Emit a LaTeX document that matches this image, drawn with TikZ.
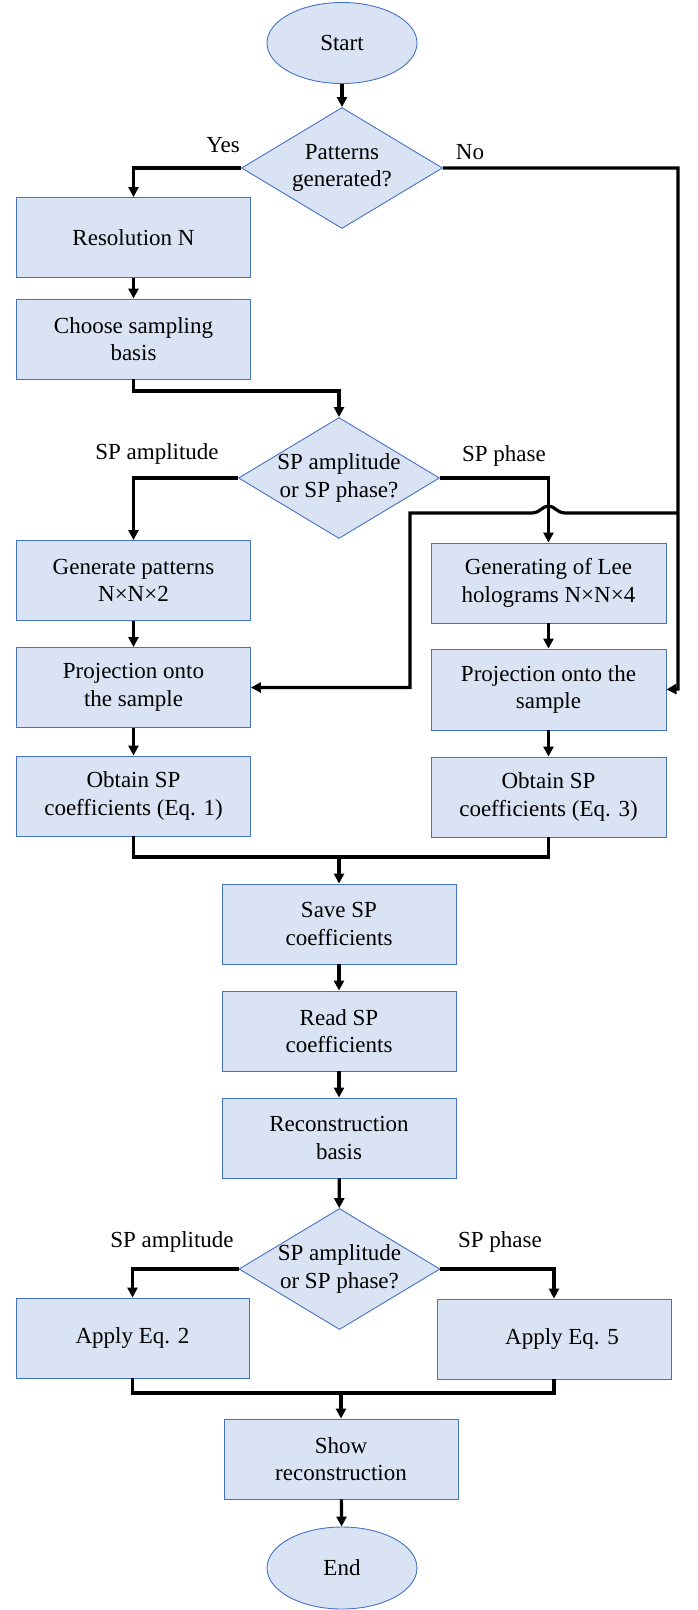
\documentclass[tikz,border=0pt]{standalone}
\usepackage{fontspec}
\setmainfont{Liberation Serif}
\usetikzlibrary{shapes.geometric,arrows.meta}
\definecolor{boxfill}{HTML}{DAE3F3}
\definecolor{boxline}{HTML}{4472C4}
\begin{document}
\begin{tikzpicture}[x=1pt,y=-1pt,
  every node/.style={font=\fontsize{23}{27.5}\selectfont},
  proc/.style={draw=boxline, line width=0.9pt, fill=boxfill, rectangle, minimum width=234pt, minimum height=80pt, inner sep=0pt, align=center},
  term/.style={draw=boxline, line width=0.9pt, fill=boxfill, ellipse, minimum width=150pt, minimum height=81pt, inner sep=0pt},
  dec/.style={draw=boxline, line width=0.9pt, fill=boxfill, diamond, minimum width=201pt, minimum height=121pt, inner sep=0pt},
  dtext/.style={align=center, inner sep=0pt},
  lbl/.style={inner sep=0pt},
  conn/.style={draw=black, line width=3.2pt},
  conna/.style={conn, -{Triangle[length=10pt,width=10pt]}}]
\fill[white] (0,0) rectangle (697,1610);
\path[use as bounding box] (0,0) rectangle (697,1610);
% nodes
\node[term] (start) at (342,43) {Start};
\node[dec] (d1) at (342,168) {};
\node[dtext] at (d1) {Patterns\\generated?};
\node[proc] (res) at (133.5,237.5) {Resolution N};
\node[proc] (choose) at (133.5,339) {Choose sampling\\basis};
\node[dec] (d2) at (339,478) {};
\node[dtext] at (d2) {SP amplitude\\or SP phase?};
\node[proc] (genL) at (133.5,580.5) {Generate patterns\\N×N×2};
\node[proc] (projL) at (133.5,687.5) {Projection onto\\the sample};
\node[proc] (obt1) at (133.5,796) {Obtain SP\\coefficients (Eq. 1)};
\node[proc, minimum width=235pt] (genR) at (548.5,583) {Generating of Lee\\holograms N×N×4};
\node[proc, minimum width=235pt, minimum height=81pt] (projR) at (548.5,689.5) {Projection onto the\\sample};
\node[proc, minimum width=235pt] (obt3) at (548.5,797) {Obtain SP\\coefficients (Eq. 3)};
\node[proc] (save) at (339,924) {Save SP\\coefficients};
\node[proc] (read) at (339,1031) {Read SP\\coefficients};
\node[proc] (recon) at (339,1138) {Reconstruction\\basis};
\node[dec] (d3) at (339.5,1269) {};
\node[dtext] at (d3) {SP amplitude\\or SP phase?};
\node[proc, minimum width=233pt] (eq2) at (132.5,1338) {Apply Eq. 2};
\node[proc] (eq5) at (554,1339) {\hspace*{16pt}Apply Eq. 5};
\node[proc] (show) at (341,1459) {Show\\reconstruction};
\node[term, minimum height=82pt] (end) at (342,1568) {End};
% labels
\node[lbl] at (223,145) {Yes};
\node[lbl] at (470,152) {No};
\node[lbl] at (157,454) {SP amplitude};
\node[lbl] at (504,456) {SP phase};
\node[lbl] at (172,1242) {SP amplitude};
\node[lbl] at (500,1242) {SP phase};
% coordinates
\coordinate (c1) at (133.5,391);
\coordinate (rx) at (678,689);
\coordinate (jr) at (678,513);
\coordinate (jl) at (410,513);
\coordinate (m1) at (339,857);
\coordinate (m2) at (341,1393);
% connectors
\draw[conna] (start) -- (d1);
\draw[conna] (d1.west) -| (res.north);
\draw[conna] (res) -- (choose);
\draw[conna] (choose.south) -- (c1) -| (d2.north);
\draw[conna] (d2.west) -| (genL.north);
\draw[conna] (genL) -- (projL);
\draw[conna] (projL) -- (obt1);
\draw[conna] (d2.east) -| (genR.north);
\draw[conna] (d1.east) -| (rx) -- (projR.east);
\draw[conna] (jr) -- (564.5,513) .. controls (557.5,513) and (554.5,506) .. (548.5,506) .. controls (542.5,506) and (539.5,513) .. (532.5,513) -- (jl) |- (projL.east);
\draw[conna] (genR) -- (projR);
\draw[conna] (projR) -- (obt3);
\draw[conn] (obt1.south) |- (m1) -| (obt3.south);
\draw[conna] (m1) -- (save.north);
\draw[conna] (save) -- (read);
\draw[conna] (read) -- (recon);
\draw[conna] (recon) -- (d3);
\draw[conna] (d3.west) -| (eq2.north);
\draw[conna] (d3.east) -| (eq5.north);
\draw[conn] (eq2.south) |- (m2) -| (eq5.south);
\draw[conna] (m2) -- (show.north);
\draw[conna] (show) -- (end);
\end{tikzpicture}
\end{document}
